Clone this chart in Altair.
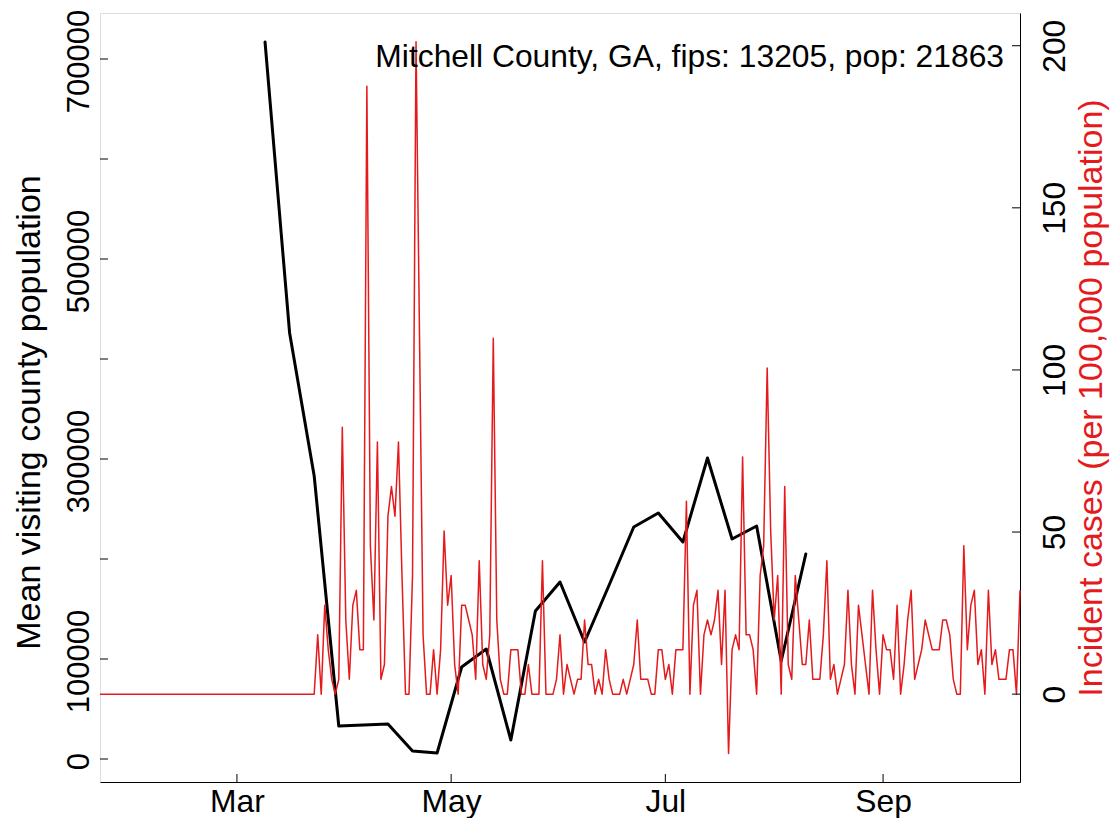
import altair as alt
import pandas as pd

# ---------------- data ----------------
population = 21863
title_text = "Mitchell County, GA, fips: 13205, pop: 21863"

# daily incident case counts, starting 2020-01-22
case_start = "2020-01-22"
incident_counts = [
    0, 0, 0, 0, 0, 0, 0, 0, 0, 0,
    0, 0, 0, 0, 0, 0, 0, 0, 0, 0,
    0, 0, 0, 0, 0, 0, 0, 0, 0, 0,
    0, 0, 0, 0, 0, 0, 0, 0, 0, 0,
    0, 0, 0, 0, 0, 0, 0, 0, 0, 0,
    0, 0, 0, 0, 0, 0, 0, 0, 0, 0,
    0, 0,
    4, 0, 6, 3, 1, 0, 1, 18, 5, 1,
    6, 7, 3, 3, 41, 10, 5, 17, 1, 2,
    12, 14, 12, 17, 8, 0, 0, 8, 44, 24,
    4, 0, 0, 3, 0, 3, 11, 6, 8, 2,
    0, 6, 6, 5, 4, 1, 9, 2, 1, 4,
    24, 5, 1, 0, 0, 3, 3, 3, 0, 0,
    2, 0, 0, 0, 9, 0, 0, 0, 1, 4,
    0, 2, 1, 0, 1, 1, 5, 2, 2, 0,
    1, 0, 3, 1, 0, 0, 0, 1, 0, 1,
    2, 5, 1, 1, 1, 0, 0, 3, 3, 1,
    2, 0, 3, 3, 3, 13, 0, 6, 7, 0,
    4, 5, 4, 5, 7, 2, 7, -4, 3, 4,
    3, 16, 4, 4, 3, 0, 8, 10, 22, 11,
    5, 8, 0, 14, 2, 1, 8, 5, 2, 2,
    5, 1, 1, 1, 4, 9, 1, 2, 0, 1,
    2, 7, 2, 0, 6, 4, 2, 0, 7, 3,
    0, 4, 3, 3, 1, 6, 0, 2, 5, 7,
    1, 2, 3, 5, 4, 3, 3, 3, 5, 5,
    4, 1, 0, 0, 10, 3, 6, 7, 2, 3,
    0, 7, 2, 3, 1, 1, 1, 3, 3, 0,
    7,
]

# weekly mean visiting county population, starting 2020-03-09
visit_start = "2020-03-09"
mean_visiting_population = [
    717000, 426000, 283000, 33000, 34000, 35000, 8000, 6000,
    92000, 110000, 19000, 148000, 177000, 117000, 174000, 232000,
    246000, 217000, 301000, 220000, 233000, 98000, 205000,
]

left_tick_values = [0, 100000, 200000, 300000, 400000, 500000, 600000, 700000]
left_label_values = [0, 100000, 300000, 500000, 700000]
right_tick_values = [0, 50, 100, 150, 200]
month_tick_dates = ["2020-03-01", "2020-05-01", "2020-07-01", "2020-09-01"]

# ---------------- build tables ----------------
case_dates = pd.date_range(case_start, periods=len(incident_counts), freq="D")
red_df = pd.DataFrame({
    "date": case_dates.strftime("%Y-%m-%dT00:00:00"),
    "cases": [c * 100000 / population for c in incident_counts],
})
visit_dates = pd.date_range(visit_start, periods=len(mean_visiting_population), freq="7D")
black_df = pd.DataFrame({
    "date": visit_dates.strftime("%Y-%m-%dT00:00:00"),
    "visitors": mean_visiting_population,
})
left_ticks_df = pd.DataFrame({"visitors": left_tick_values})
right_ticks_df = pd.DataFrame({"cases": right_tick_values})
month_df = pd.DataFrame({"date": [d + "T00:00:00" for d in month_tick_dates]})

# ---------------- style ----------------
W, H = 920, 769
FONT = "Liberation Sans"
FS = 31.8
FS_LEFT = 31
FS_TITLE = 34
RED = "#e41a1c"
TICK = 8

x_scale = alt.Scale(
    domain=[alt.DateTime(year=2020, month=1, date=22),
            alt.DateTime(year=2020, month=10, date=10)],
    nice=False,
)
left_scale = alt.Scale(domain=[-23000, 746000], nice=False, zero=False)
right_scale = alt.Scale(domain=[-27.1, 210.1], nice=False, zero=False)

x_axis = alt.Axis(
    values=[alt.DateTime(year=int(d[:4]), month=int(d[5:7]), date=int(d[8:10]))
            for d in month_tick_dates],
    format="%b", ticks=False, tickSize=0, grid=False,
    domain=True, domainColor="black", domainWidth=1,
    labelFont=FONT, labelFontSize=FS, labelColor="black",
    labelBaseline="alphabetic", labelPadding=29, labelFlush=False,
    labelOverlap=False, title=None,
)
left_axis = alt.Axis(
    values=left_label_values, format="d", ticks=False, tickSize=0, grid=False,
    domain=False,
    labelFont=FONT, labelFontSize=FS_LEFT, labelColor="black",
    labelAngle=-90, labelAlign="center", labelBaseline="alphabetic",
    labelPadding=12, labelOffset=2, labelOverlap=False, labelFlush=False,
    title="Mean visiting county population",
    titleFont=FONT, titleFontSize=FS_TITLE, titleFontWeight="normal", titleColor="black",
    titleAngle=-90, titleAlign="center", titleBaseline="alphabetic",
    titleX=-61, titleY=399,
)
right_axis = alt.Axis(
    orient="right", values=right_tick_values, format="d", ticks=False, tickSize=0,
    grid=False, domain=True, domainColor="black", domainWidth=1,
    labelFont=FONT, labelFontSize=FS, labelColor="black",
    labelAngle=-90, labelAlign="center", labelBaseline="alphabetic",
    labelPadding=44, labelOverlap=False, labelFlush=False,
    title="Incident cases (per 100,000 population)",
    titleFont=FONT, titleFontSize=FS_TITLE, titleFontWeight="normal", titleColor=RED,
    titleAngle=-90, titleAlign="center", titleBaseline="alphabetic",
    titleX=81, titleY=H / 2,
)

X = alt.X("date:T", scale=x_scale, axis=x_axis)
Y_LEFT = alt.Y("visitors:Q", scale=left_scale, axis=left_axis)
Y_RIGHT = alt.Y("cases:Q", scale=right_scale, axis=right_axis)

# ---------------- layers ----------------
black_line = alt.Chart(black_df).mark_line(
    color="black", strokeWidth=3, strokeJoin="round", strokeCap="round"
).encode(x=X, y=Y_LEFT)

left_ticks = alt.Chart(left_ticks_df).mark_rule(color="black", strokeWidth=1).encode(
    y=Y_LEFT, x=alt.value(0), x2=alt.value(TICK),
)
bottom_ticks = alt.Chart(month_df).mark_rule(color="black", strokeWidth=1).encode(
    x=X, y=alt.value(H - TICK), y2=alt.value(H),
)
left_group = alt.layer(black_line, left_ticks, bottom_ticks)

red_line = alt.Chart(red_df).mark_line(
    color=RED, strokeWidth=1.5, strokeJoin="round"
).encode(x=X, y=Y_RIGHT)

right_ticks = alt.Chart(right_ticks_df).mark_rule(color="black", strokeWidth=1).encode(
    y=Y_RIGHT, x=alt.value(W - TICK), x2=alt.value(W),
)
right_group = alt.layer(red_line, right_ticks)

chart = alt.layer(left_group, right_group).resolve_scale(
    y="independent"
).properties(
    width=W, height=H,
    autosize=alt.AutoSizeParams(type="none"),
    padding={"left": 92, "top": 5, "right": 90, "bottom": 36},
    title=alt.TitleParams(
        text=title_text, anchor="end", frame="group", orient="top",
        font=FONT, fontSize=FS, fontWeight="normal", color="black",
        baseline="alphabetic", offset=0, dx=-16, dy=90,
    ),
).configure_view(
    stroke="black", strokeWidth=1.5
).configure(background="white")

chart.save("out.html", embed_options={"renderer": "svg", "actions": False})
